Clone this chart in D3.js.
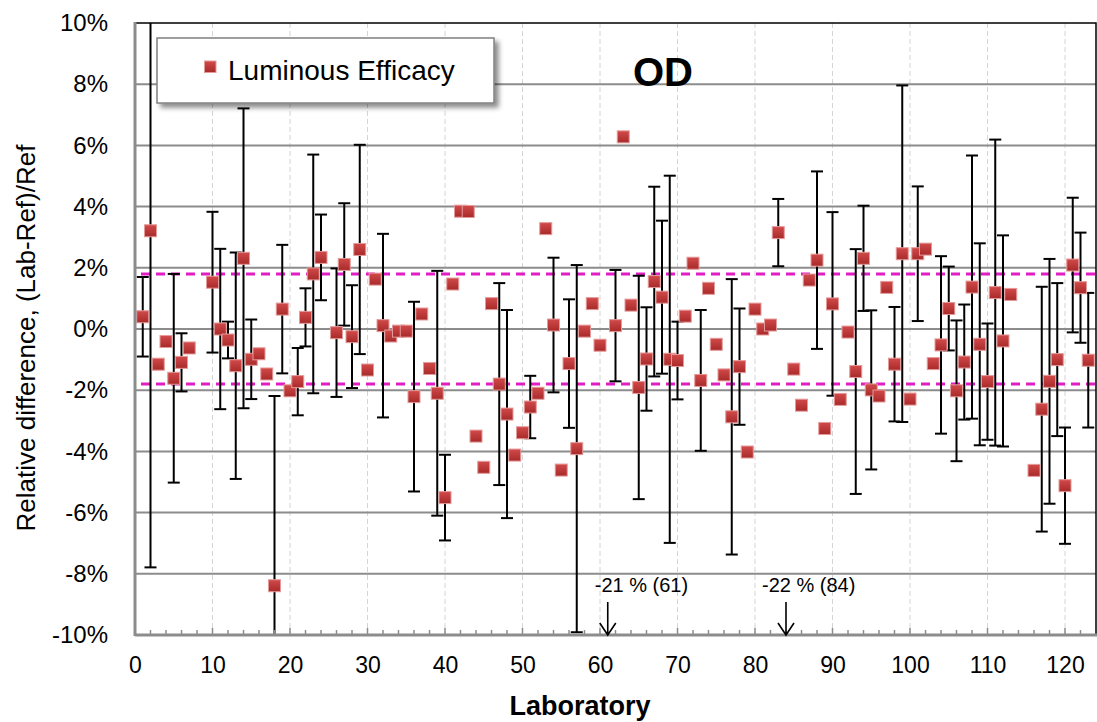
<!DOCTYPE html>
<html>
<head>
<meta charset="utf-8">
<script src="https://cdn.jsdelivr.net/npm/d3@7"></script>
<style>
  html, body { margin: 0; padding: 0; background: #fff; }
  svg { display: block; font-family: "Liberation Sans", Arial, sans-serif; }
</style>
</head>
<body>
<svg id="chart" width="1097" height="722"></svg>
<script>
// Laboratory numbers (x), relative difference in % (y) and the expanded uncertainty (± %, null = none reported)
const labs = [
  1, 2, 3, 4, 5, 6, 7, 10, 11, 12,
  13, 14, 15, 16, 17, 18, 19, 20, 21, 22,
  23, 24, 26, 27, 28, 29, 30, 31, 32, 33,
  34, 35, 36, 37, 38, 39, 40, 41, 42, 43,
  44, 45, 46, 47, 48, 49, 50, 51, 52, 53,
  54, 55, 56, 57, 58, 59, 60, 61, 62, 63,
  64, 65, 66, 67, 68, 69, 70, 71, 72, 73,
  74, 75, 76, 77, 78, 79, 80, 81, 82, 83,
  84, 85, 86, 87, 88, 89, 90, 91, 92, 93,
  94, 95, 96, 97, 98, 99, 100, 101, 102, 103,
  104, 105, 106, 107, 108, 109, 110, 111, 112, 113,
  116, 117, 118, 119, 120, 121, 122, 123
];
const efficacyDiff = [
  0.40, 3.21, -1.15, -0.41, -1.61, -1.09, -0.62, 1.53, 0.00, -0.36,
  -1.20, 2.31, -0.99, -0.81, -1.47, -8.39, 0.65, -2.02, -1.72, 0.38,
  1.80, 2.34, -0.12, 2.11, -0.25, 2.60, -1.34, 1.63, 0.11, -0.23,
  -0.07, -0.07, -2.21, 0.49, -1.29, -2.10, -5.51, 1.47, 3.85, 3.84,
  -3.50, -4.52, 0.83, -1.80, -2.78, -4.12, -3.39, -2.55, -2.10, 3.28,
  0.13, -4.61, -1.13, -3.91, -0.07, 0.83, -0.53, -21, 0.11, 6.28,
  0.78, -1.91, -0.98, 1.55, 1.04, -0.99, -1.03, 0.42, 2.15, -1.68,
  1.33, -0.50, -1.50, -2.87, -1.23, -4.02, 0.65, 0.00, 0.13, 3.15,
  -22, -1.31, -2.49, 1.60, 2.25, -3.25, 0.82, -2.30, -0.10, -1.39,
  2.31, -1.99, -2.19, 1.36, -1.15, 2.46, -2.29, 2.46, 2.61, -1.13,
  -0.52, 0.67, -2.02, -1.08, 1.37, -0.50, -1.72, 1.19, -0.39, 1.13,
  -4.62, -2.62, -1.71, -1.00, -5.12, 2.09, 1.35, -1.02
];
const uncertainty = [
  1.30, 11.0, null, null, 3.41, 0.95, null, 2.30, 2.62, 0.60,
  3.70, 4.90, 1.30, null, null, 6.20, 2.10, null, 1.10, 0.95,
  3.90, 1.40, 2.10, 2.00, 1.68, 3.42, null, null, 3.00, null,
  null, null, 3.10, null, null, 4.00, 1.40, null, null, null,
  null, null, null, 3.30, 3.40, null, null, 1.02, null, null,
  2.20, null, 2.10, 6.00, null, null, null, null, 1.82, null,
  null, 3.65, 1.69, 3.10, 2.50, 6.00, 1.27, null, null, 2.30,
  null, null, null, 4.50, 1.90, null, null, null, null, 1.10,
  null, null, null, null, 2.90, null, 3.00, null, null, 4.00,
  1.72, 2.60, null, null, 1.87, 5.50, null, 2.20, null, null,
  2.90, 1.37, 2.30, 1.88, 4.30, 3.30, 1.90, 5.00, 3.45, null,
  null, 4.00, 4.00, 2.50, 1.90, 2.20, 1.80, 2.20
];
const limitLines = [1.8, -1.8];
const yTicks = [-10, -8, -6, -4, -2, 0, 2, 4, 6, 8, 10];
const xTicks = [0, 10, 20, 30, 40, 50, 60, 70, 80, 90, 100, 110, 120];
const seriesName = "Luminous Efficacy";
const chartTitle = "OD";

(function draw() {
  const rows = labs.map((lab, i) => ({ lab, v: efficacyDiff[i], u: uncertainty[i] }));

  const svg = d3.select("#chart");
  const pL = 135, pR = 1096, pT = 23, pB = 635;
  const x = d3.scaleLinear().domain([0, 124]).range([pL, pR]);
  const y = d3.scaleLinear().domain([-10, 10]).range([pB, pT]);
  const [yMin, yMax] = y.domain();

  const defs = svg.append("defs");
  defs.append("clipPath").attr("id", "plotClip")
    .append("rect").attr("x", pL).attr("y", pT).attr("width", pR - pL).attr("height", pB - pT);
  const grad = defs.append("linearGradient").attr("id", "markerFill")
    .attr("x1", 0).attr("y1", 0).attr("x2", 0).attr("y2", 1);
  grad.append("stop").attr("offset", "0%").attr("stop-color", "#d24a4a");
  grad.append("stop").attr("offset", "100%").attr("stop-color", "#a82a2a");
  const shadow = defs.append("filter").attr("id", "legendShadow")
    .attr("x", "-10%").attr("y", "-20%").attr("width", "130%").attr("height", "160%");
  shadow.append("feDropShadow").attr("dx", 4).attr("dy", 4).attr("stdDeviation", 2.5)
    .attr("flood-color", "#000").attr("flood-opacity", 0.45);

  // vertical dashed gridlines
  svg.append("g").selectAll("line").data(xTicks.filter(d => d > 0)).join("line")
    .attr("x1", d => x(d)).attr("x2", d => x(d)).attr("y1", pT).attr("y2", pB)
    .attr("stroke", "#d4d4d4").attr("stroke-width", 1).attr("stroke-dasharray", "5,3");

  // horizontal gridlines
  svg.append("g").selectAll("line").data(yTicks.filter(d => d > yMin && d < yMax)).join("line")
    .attr("x1", pL).attr("x2", pR).attr("y1", d => y(d)).attr("y2", d => y(d))
    .attr("stroke", "#8c8c8c").attr("stroke-width", 2);

  // plot border (top / right)
  svg.append("path")
    .attr("d", `M${pL},${pT}H${pR}V${pB}`)
    .attr("fill", "none").attr("stroke", "#000").attr("stroke-width", 1.5);

  // ±limit dashed lines
  svg.append("g").selectAll("line").data(limitLines).join("line")
    .attr("x1", pL + 6).attr("x2", pR).attr("y1", d => y(d)).attr("y2", d => y(d))
    .attr("stroke", "#e01ec4").attr("stroke-width", 3).attr("stroke-dasharray", "9,6");

  // error bars
  const plot = svg.append("g").attr("clip-path", "url(#plotClip)");
  const withBars = rows.filter(r => r.u != null && r.v >= yMin);
  const capW = 6;
  const eb = plot.append("g").attr("stroke", "#000").attr("stroke-width", 2).attr("fill", "none");
  eb.selectAll("line.stem").data(withBars).join("line").attr("class", "stem")
    .attr("x1", d => x(d.lab)).attr("x2", d => x(d.lab))
    .attr("y1", d => y(d.v + d.u)).attr("y2", d => y(d.v - d.u));
  eb.selectAll("line.capTop").data(withBars).join("line").attr("class", "capTop")
    .attr("x1", d => x(d.lab) - capW).attr("x2", d => x(d.lab) + capW)
    .attr("y1", d => y(d.v + d.u)).attr("y2", d => y(d.v + d.u));
  eb.selectAll("line.capBot").data(withBars).join("line").attr("class", "capBot")
    .attr("x1", d => x(d.lab) - capW).attr("x2", d => x(d.lab) + capW)
    .attr("y1", d => y(d.v - d.u)).attr("y2", d => y(d.v - d.u));

  // axis lines (left / bottom)
  svg.append("line").attr("x1", pL).attr("x2", pL).attr("y1", pT - 1).attr("y2", pB + 1)
    .attr("stroke", "#8c8c8c").attr("stroke-width", 3);
  svg.append("line").attr("x1", pL).attr("x2", pR + 1).attr("y1", pB).attr("y2", pB)
    .attr("stroke", "#8c8c8c").attr("stroke-width", 3);

  // x axis: inward minor ticks every 2, labels every 10
  const minor = d3.range(2, 124, 2);
  svg.append("g").selectAll("line").data(minor).join("line")
    .attr("x1", d => x(d)).attr("x2", d => x(d))
    .attr("y1", pB).attr("y2", d => pB - (d % 10 === 0 ? 7 : 5))
    .attr("stroke", "#8c8c8c").attr("stroke-width", 1.5);

  const xAxis = d3.axisBottom(x).tickValues(xTicks).tickSize(0).tickPadding(0);
  const gx = svg.append("g").attr("transform", `translate(0,${pB})`).call(xAxis);
  gx.select(".domain").remove();
  gx.selectAll("text").attr("font-size", 23).attr("fill", "#000")
    .attr("font-family", "Liberation Sans, Arial, sans-serif").attr("dy", null).attr("y", 38);

  const yAxis = d3.axisLeft(y).tickValues(yTicks).tickFormat(d => d + "%").tickSize(0).tickPadding(0);
  const gy = svg.append("g").attr("transform", `translate(108,0)`).call(yAxis);
  gy.select(".domain").remove();
  gy.selectAll("text").attr("font-size", 24).attr("fill", "#000")
    .attr("font-family", "Liberation Sans, Arial, sans-serif");

  // markers
  const ms = 12;
  plot.append("g").selectAll("rect").data(rows.filter(r => r.v >= yMin && r.v <= yMax)).join("rect")
    .attr("x", d => x(d.lab) - ms / 2).attr("y", d => y(d.v) - ms / 2)
    .attr("width", ms).attr("height", ms)
    .attr("fill", "url(#markerFill)").attr("stroke", "#e59a9a").attr("stroke-width", 1);

  // off-scale results: arrow + value label
  const offScale = rows.filter(r => r.v < yMin);
  const noteShift = [-13, -24];
  const notes = svg.append("g");
  offScale.forEach((d, i) => {
    const cx = x(d.lab);
    notes.append("path")
      .attr("d", `M${cx},${pB - 33}V${pB}M${cx - 8},${pB - 12}L${cx},${pB}L${cx + 8},${pB - 12}`)
      .attr("fill", "none").attr("stroke", "#000").attr("stroke-width", 1.6);
    notes.append("text")
      .attr("x", cx + noteShift[i]).attr("y", pB - 43)
      .attr("font-size", 20).attr("fill", "#000")
      .text(`${d.v} % (${d.lab})`);
  });

  // title
  svg.append("text").attr("x", 633).attr("y", 86)
    .attr("font-size", 40).attr("font-weight", "bold").attr("fill", "#000").text(chartTitle);

  // legend
  const lg = svg.append("g");
  lg.append("rect").attr("x", 157).attr("y", 38).attr("width", 337).attr("height", 65)
    .attr("fill", "#fff").attr("stroke", "#808080").attr("stroke-width", 1.5)
    .attr("filter", "url(#legendShadow)");
  lg.append("rect").attr("x", 204.5).attr("y", 61).attr("width", 11.5).attr("height", 11.5)
    .attr("fill", "url(#markerFill)").attr("stroke", "#e59a9a").attr("stroke-width", 1);
  lg.append("text").attr("x", 228).attr("y", 80).attr("font-size", 28).attr("fill", "#000").text(seriesName);

  // axis titles
  svg.append("text").attr("x", 580).attr("y", 715)
    .attr("text-anchor", "middle").attr("font-size", 27).attr("font-weight", "bold").text("Laboratory");
  svg.append("text").attr("transform", `translate(35,338) rotate(-90)`)
    .attr("text-anchor", "middle").attr("font-size", 26).text("Relative difference, (Lab-Ref)/Ref");
})();
</script>
</body>
</html>
